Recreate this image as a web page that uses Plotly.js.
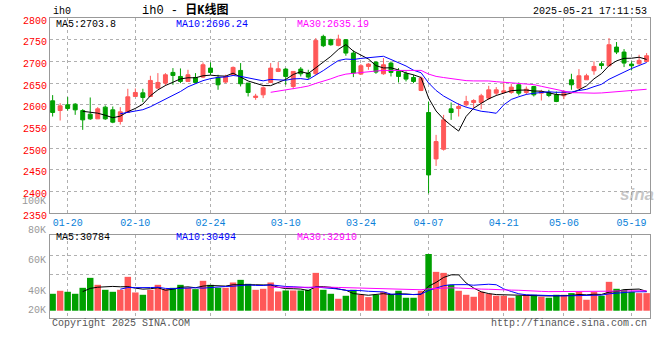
<!DOCTYPE html>
<html><head><meta charset="utf-8">
<script src="https://cdn.plot.ly/plotly-3.0.1.min.js"></script>
<style>body{margin:0;background:#fff}#chart{width:660px;height:360px}</style>
</head><body><div id="chart"></div>
<script>
// ---- data ----
const dates = ['01-16','01-17','01-20','01-21','01-22','01-23','01-24','01-27','02-05','02-06',
 '02-07','02-10','02-11','02-12','02-13','02-14','02-17','02-18','02-19','02-20',
 '02-21','02-24','02-25','02-26','02-27','02-28','03-03','03-04','03-05','03-06',
 '03-07','03-10','03-11','03-12','03-13','03-14','03-17','03-18','03-19','03-20',
 '03-21','03-24','03-25','03-26','03-27','03-28','03-31','04-01','04-02','04-03',
 '04-07','04-08','04-09','04-10','04-11','04-14','04-15','04-16','04-17','04-18',
 '04-21','04-22','04-23','04-24','04-25','04-28','04-29','04-30','05-06','05-07',
 '05-08','05-09','05-12','05-13','05-14','05-15','05-16','05-19','05-20','05-21'];
const openP = [2609.2,2586.9,2600.0,2601.5,2586.9,2578.4,2567.6,2594.6,2588.4,2561.5,
 2582.3,2619.2,2627.6,2619.2,2638.4,2649.9,2674.6,2665.3,2653.8,2663.0,
 2663.8,2684.6,2663.0,2652.3,2669.2,2679.2,2650.0,2616.9,2623.0,2651.5,
 2676.9,2682.3,2642.3,2682.3,2673.0,2671.5,2757.6,2750.0,2736.9,2750.0,
 2719.2,2670.7,2688.4,2698.4,2671.5,2696.1,2676.9,2671.5,2663.0,2633.0,
 2582.2,2475.3,2497.6,2590.7,2591.4,2599.9,2605.3,2605.3,2615.3,2626.8,
 2628.4,2628.4,2646.1,2628.4,2642.2,2626.8,2628.4,2623.0,2620.7,2657.6,
 2638.4,2657.6,2678.4,2694.6,2689.9,2733.0,2721.5,2693.8,2694.6,2700.0];
const highP = [2622.3,2603.8,2617.7,2603.8,2590.0,2616.9,2594.6,2598.4,2596.1,2594.6,
 2636.9,2637.7,2636.9,2666.9,2673.0,2673.0,2684.6,2683.8,2680.7,2673.0,
 2697.6,2697.6,2669.2,2669.2,2688.4,2696.1,2650.0,2625.3,2642.3,2696.1,
 2698.4,2684.6,2676.9,2686.9,2680.7,2753.8,2761.5,2752.3,2761.5,2751.5,
 2725.3,2693.8,2696.1,2700.0,2707.6,2700.0,2684.6,2676.9,2669.2,2665.0,
 2607.6,2530.7,2576.8,2605.3,2603.8,2620.7,2613.0,2625.3,2643.8,2640.7,
 2653.8,2648.4,2651.4,2642.2,2643.8,2634.5,2634.5,2630.7,2633.0,2671.5,
 2682.3,2671.5,2700.0,2700.0,2753.8,2744.6,2728.4,2700.0,2715.3,2719.2];
const lowP = [2573.0,2563.8,2586.9,2576.9,2542.3,2565.3,2567.6,2565.3,2557.6,2554.6,
 2582.3,2619.2,2606.1,2619.2,2638.4,2643.8,2646.1,2649.9,2653.8,2649.9,
 2661.5,2669.2,2634.6,2650.0,2666.9,2642.3,2619.2,2611.5,2615.4,2650.0,
 2675.4,2646.1,2636.1,2665.3,2659.2,2669.2,2733.0,2736.1,2734.6,2713.0,
 2663.8,2669.2,2680.7,2671.5,2669.2,2665.3,2651.5,2653.8,2649.9,2631.5,
 2396.1,2459.1,2494.5,2565.3,2573.0,2596.1,2592.2,2589.9,2611.4,2620.7,
 2625.3,2625.3,2621.4,2623.0,2619.1,2609.9,2617.6,2606.1,2613.0,2634.6,
 2638.4,2657.6,2669.2,2682.3,2688.4,2716.9,2686.9,2679.2,2692.3,2697.6];
const closeP = [2582.3,2597.6,2591.5,2588.4,2565.3,2567.6,2590.7,2567.6,2560.0,2583.8,
 2618.4,2628.4,2616.9,2656.1,2651.5,2669.2,2667.6,2653.8,2669.2,2651.5,
 2692.3,2674.6,2646.1,2665.3,2686.1,2648.4,2628.4,2620.0,2639.2,2684.6,
 2683.0,2665.3,2676.9,2671.5,2663.8,2748.4,2736.1,2738.4,2751.5,2719.2,
 2673.0,2690.0,2693.8,2675.4,2692.3,2674.6,2665.3,2659.2,2653.8,2661.5,
 2438.4,2515.3,2565.3,2582.2,2596.1,2607.6,2609.9,2620.7,2634.5,2634.5,
 2632.2,2640.7,2626.8,2636.0,2623.0,2630.7,2621.4,2607.6,2630.7,2646.1,
 2666.9,2666.9,2688.4,2690.7,2738.4,2721.5,2696.1,2689.9,2702.3,2713.0];
const volume = [27540,32400,30780,27540,37260,53460,42120,34020,30780,34020,
 55080,29700,25920,34020,42120,35100,37260,42120,37260,35100,
 48600,42120,37260,37260,45900,50220,43740,34020,35640,45900,
 31320,32940,32940,32940,34020,61560,34020,27540,19440,24300,
 34020,25920,22140,25920,30780,25920,32400,21060,21060,32400,
 92340,63180,61560,42120,32400,25920,22680,30780,27540,24300,
 24300,21060,24300,25920,25920,22680,21060,25920,25920,28620,
 30780,17820,30780,24300,46980,35640,34020,30780,28620,28620];
const dateTicks = ['01-20','02-10','02-24','03-10','03-24','04-07','04-21','05-06','05-19'];
const priceTicks = [2350,2400,2450,2500,2550,2600,2650,2700,2750,2800];
const priceMaText = ['MA5:2703.8','MA10:2696.24','MA30:2635.19'];
const volMaText = ['MA5:30784','MA10:30494','MA30:32910'];
const volAxisText = ['100K','80K','60K','40K','20K'];

// ---- styles ----
const RED='#ff5858', GREEN='#00a000';
const maColors=['#000000','#0000ff','#ff00ff'];
const maPeriods=[5,10,30];
function ma(arr,n){return arr.map((v,i)=>{if(i<n-1)return null;let s=0;for(let j=i-n+1;j<=i;j++)s+=arr[j];return s/n;});}

const traces=[];
traces.push({type:'candlestick',x:dates,open:openP,high:highP,low:lowP,close:closeP,xaxis:'x',yaxis:'y',
  increasing:{line:{color:RED,width:1},fillcolor:RED},decreasing:{line:{color:GREEN,width:1},fillcolor:GREEN},
  whiskerwidth:0,hoverinfo:'skip'});
maPeriods.forEach((n,i)=>traces.push({type:'scatter',mode:'lines',x:dates,y:ma(closeP,n),xaxis:'x',yaxis:'y',
  line:{color:maColors[i],width:1},hoverinfo:'skip'}));
traces.push({type:'bar',x:dates,y:volume,xaxis:'x2',yaxis:'y2',
  marker:{color:closeP.map((c,i)=>c>=openP[i]?RED:GREEN),line:{width:0}},hoverinfo:'skip'});
maPeriods.forEach((n,i)=>traces.push({type:'scatter',mode:'lines',x:dates,y:ma(volume,n),xaxis:'x2',yaxis:'y2',
  line:{color:maColors[i],width:1},hoverinfo:'skip'}));

// pixel helpers for text placement (plot area: x 50..650, y 18..318)
const px=x=>(x-50)/600, py=y=>(318-y)/300;
const MONO='Liberation Mono, DejaVu Sans Mono, monospace';
const ann=[];
function t(text,x,y,xa,color,size,extra){ann.push(Object.assign({text:text,xref:'paper',yref:'paper',x:px(x),y:py(y),xanchor:xa,yanchor:'middle',showarrow:false,font:{family:MONO,size:size||10,color:color||'#000'}},extra||{}));}
t('ih0',51,12,'left','#000',10);
t('ih0 - <b>日K线图</b>',185,10,'center','#000',12,{font:{family:'Liberation Mono, Noto Sans CJK SC',size:12,color:'#000'}});
t('2025-05-21 17:11:53',649,12,'right','#000',10);
const maX=[54,174,295];
priceMaText.forEach((s,i)=>t(s,maX[i],24,'left',maColors[i],10));
volMaText.forEach((s,i)=>t(s,maX[i],237.5,'left',maColors[i],10));
const volLabelY=[201.5,230.7,260.7,291,310.7];
volAxisText.forEach((s,i)=>t(s,47,volLabelY[i],'right','#999',10,{borderpad:0}));
t('Copyright 2025 SINA.COM',50,323.5,'left','#555',10);
t('http://finance.sina.com.cn',649,323.5,'right','#555',10);
t('<b><i>sina</i></b>',637,194,'center','rgba(150,150,150,0.55)',16,{font:{family:'Liberation Sans, Arial',size:17,color:'rgba(150,150,150,0.55)'}});

const gridC='#b0b0b0', lineC='#999';
const layout={
  width:660,height:360,margin:{l:50,r:10,t:18,b:42},
  paper_bgcolor:'#fff',plot_bgcolor:'#fff',showlegend:false,
  boxgap:0.25,bargap:0.14,hovermode:false,
  font:{family:MONO,size:10,color:'#000'},
  xaxis:{type:'category',anchor:'y',domain:[0,1],range:[-0.35,79.45],tickvals:dateTicks,ticktext:dateTicks,
    tickfont:{family:MONO,size:10,color:'#0a7fd9'},ticks:'',showgrid:true,gridcolor:gridC,griddash:'dot',gridwidth:1,
    showline:true,linecolor:lineC,linewidth:1,mirror:true,zeroline:false,rangeslider:{visible:false},fixedrange:true},
  yaxis:{domain:[0.349,1],range:[2350,2800],tickvals:priceTicks,ticktext:priceTicks.map(String),ticks:'',
    tickfont:{family:MONO,size:10,color:'#f00'},ticklabelshift:2,showgrid:true,gridcolor:gridC,griddash:'dot',gridwidth:1,
    showline:true,linecolor:lineC,linewidth:1,mirror:true,zeroline:false,fixedrange:true},
  xaxis2:{type:'category',anchor:'y2',matches:'x',domain:[0,1],range:[-0.35,79.45],tickvals:dateTicks,showticklabels:false,ticks:'',
    showgrid:true,gridcolor:gridC,griddash:'dot',gridwidth:1,showline:true,linecolor:lineC,linewidth:1,mirror:true,zeroline:false,fixedrange:true},
  yaxis2:{domain:[0,0.2777],range:[-11826,123606],tickvals:[58320,89586],showticklabels:false,ticks:'',
    showgrid:true,gridcolor:gridC,griddash:'dot',gridwidth:1,showline:true,linecolor:lineC,linewidth:1,mirror:true,zeroline:false,fixedrange:true},
  annotations:ann
};
Plotly.newPlot('chart',traces,layout,{staticPlot:true,displayModeBar:false});
</script></body></html>
